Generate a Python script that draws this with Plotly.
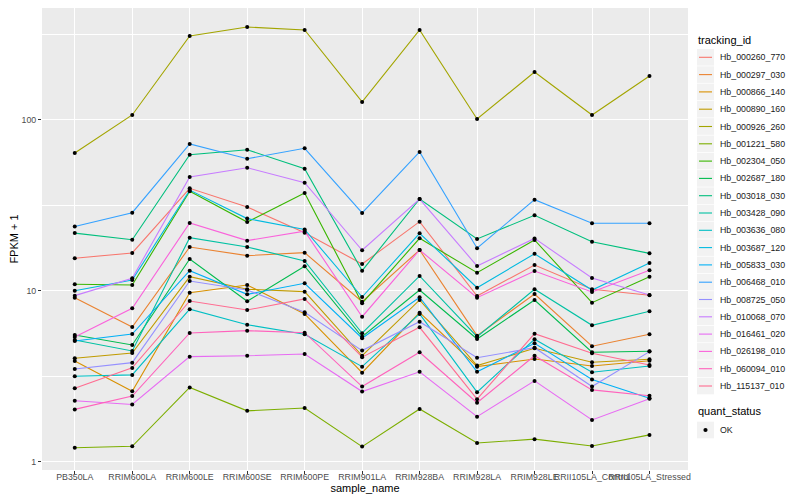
import plotly.graph_objects as go

samples = ["PB350LA", "RRIM600LA", "RRIM600LE", "RRIM600SE", "RRIM600PE", "RRIM901LA",
           "RRIM928BA", "RRIM928LA", "RRIM928LE", "RRII105LA_Control", "RRII105LA_Stressed"]

ids = ["Hb_000260_770", "Hb_000297_030", "Hb_000866_140", "Hb_000890_160", "Hb_000926_260",
       "Hb_001221_580", "Hb_002304_050", "Hb_002687_180", "Hb_003018_030", "Hb_003428_090",
       "Hb_003636_080", "Hb_003687_120", "Hb_005833_030", "Hb_006468_010", "Hb_008725_050",
       "Hb_010068_070", "Hb_016461_020", "Hb_026198_010", "Hb_060094_010", "Hb_115137_010"]

colors = ["#F8766D", "#EA8331", "#D89000", "#C09B00", "#A3A500", "#7CAE00", "#39B600", "#00BB4E",
          "#00BF7D", "#00C1A3", "#00BFC4", "#00BAE0", "#00B0F6", "#35A2FF", "#9590FF", "#C77CFF",
          "#E76BF3", "#FA62DB", "#FF62BC", "#FF6C91"]

Hb_000260_770 = [15.53, 16.69, 39.86, 30.98, 21.92, 14.38, 25.43, 9.35, 14.19, 10.23, 9.44]
Hb_000297_030 = [9.14, 6.16, 18.08, 16.09, 16.75, 8.66, 17.37, 5.48, 9.60, 4.75, 5.58]
Hb_000866_140 = [3.90, 2.59, 9.77, 10.84, 7.34, 3.33, 7.47, 3.61, 4.00, 3.64, 3.91]
Hb_000890_160 = [4.04, 4.34, 12.12, 10.23, 9.91, 4.18, 8.86, 3.66, 4.62, 3.83, 3.99]
Hb_000926_260 = [64.1, 107.0, 310.0, 350.0, 336.0, 127.5, 336.0, 101.3, 190.9, 107.0, 180.8]
Hb_001221_580 = [1.21, 1.235, 2.73, 1.99, 2.07, 1.23, 2.04, 1.29, 1.36, 1.24, 1.44]
Hb_002304_050 = [10.94, 10.84, 38.3, 25.3, 37.4, 8.48, 20.33, 12.79, 19.87, 8.54, 12.12]
Hb_002687_180 = [5.53, 4.83, 15.39, 8.71, 13.95, 5.40, 10.13, 5.24, 8.86, 4.38, 4.44]
Hb_003018_030 = [21.8, 19.95, 62.7, 67.0, 51.9, 13.14, 34.5, 20.14, 27.7, 19.4, 16.6]
Hb_003428_090 = [5.17, 4.46, 20.5, 18.08, 14.98, 5.66, 12.24, 5.40, 10.23, 6.30, 7.61]
Hb_003636_080 = [3.17, 3.23, 7.82, 6.35, 5.58, 3.61, 7.34, 2.56, 5.22, 3.35, 3.64]
Hb_003687_120 = [10.04, 11.60, 38.9, 26.5, 22.9, 9.22, 21.75, 10.45, 16.5, 10.13, 14.58]
Hb_005833_030 = [5.10, 5.60, 13.14, 9.56, 11.09, 5.29, 9.19, 3.37, 4.94, 3.04, 2.36]
Hb_006468_010 = [23.8, 28.7, 72.4, 59.4, 68.3, 28.6, 65.0, 17.8, 34.2, 24.9, 24.9]
Hb_008725_050 = [3.50, 3.81, 11.44, 10.13, 7.51, 4.48, 6.61, 4.07, 4.66, 2.76, 4.42]
Hb_010068_070 = [9.39, 11.87, 46.4, 52.6, 43.0, 17.3, 34.5, 14.0, 20.3, 11.9, 9.48]
Hb_016461_020 = [2.28, 2.17, 4.13, 4.18, 4.28, 2.58, 3.37, 1.84, 2.98, 1.76, 2.34]
Hb_026198_010 = [5.38, 7.92, 25.0, 19.7, 22.4, 7.07, 17.37, 9.14, 13.09, 9.87, 13.21]
Hb_060094_010 = [2.03, 2.43, 5.68, 5.86, 5.70, 2.76, 4.38, 2.22, 4.18, 2.64, 2.44]
Hb_115137_010 = [2.70, 3.55, 8.74, 7.74, 8.98, 4.10, 6.13, 2.33, 5.63, 4.32, 3.69]

series = [Hb_000260_770, Hb_000297_030, Hb_000866_140, Hb_000890_160, Hb_000926_260,
          Hb_001221_580, Hb_002304_050, Hb_002687_180, Hb_003018_030, Hb_003428_090,
          Hb_003636_080, Hb_003687_120, Hb_005833_030, Hb_006468_010, Hb_008725_050,
          Hb_010068_070, Hb_016461_020, Hb_026198_010, Hb_060094_010, Hb_115137_010]

quant_status = "OK"

FONT = "Liberation Sans"

# figure geometry (the page adds an 8px body margin)
OFF = 8
W, H = 792, 492
ML, MR, MT, MB = 34, 112, 0, 30
PW, PH = W - ML - MR, H - MT - MB


def px(x):  # page pixel -> paper x
    return (x - OFF - ML) / PW


def py(y):  # page pixel -> paper y
    return 1 - (y - OFF - MT) / PH


fig = go.Figure()

for name, col, vals in zip(ids, colors, series):
    fig.add_trace(go.Scatter(x=samples, y=vals, mode="lines", name=name,
                             line=dict(color=col, width=1.1), showlegend=False))

all_x, all_y = [], []
for vals in series:
    all_x += samples
    all_y += vals
fig.add_trace(go.Scatter(x=all_x, y=all_y, mode="markers", name=quant_status,
                         marker=dict(color="black", size=4, symbol="circle"),
                         showlegend=False))

# hand-drawn ggplot-style legends
shapes, annos = [], []
KEY_X0, KEY_X1, TXT_X = 697, 714, 718
annos.append(dict(text="tracking_id", x=px(KEY_X0 - 1), y=py(40), xref="paper", yref="paper",
                  xanchor="left", yanchor="middle", showarrow=False,
                  font=dict(size=11, color="black", family=FONT)))
for i, (name, col) in enumerate(zip(ids, colors)):
    yc = 57.3 + 17.3 * i
    shapes.append(dict(type="rect", xref="paper", yref="paper", x0=px(KEY_X0), x1=px(KEY_X1),
                       y0=py(yc - 8.3), y1=py(yc + 8.3), fillcolor="#F2F2F2", line=dict(width=0),
                       layer="below"))
    shapes.append(dict(type="line", xref="paper", yref="paper", x0=px(KEY_X0 + 2), x1=px(KEY_X1 - 2),
                       y0=py(yc), y1=py(yc), line=dict(color=col, width=1.1)))
    annos.append(dict(text=name, x=px(TXT_X), y=py(yc), xref="paper", yref="paper",
                      xanchor="left", yanchor="middle", showarrow=False,
                      font=dict(size=8.8, color="#1a1a1a", family=FONT)))

annos.append(dict(text="quant_status", x=px(KEY_X0 - 1), y=py(411), xref="paper", yref="paper",
                  xanchor="left", yanchor="middle", showarrow=False,
                  font=dict(size=11, color="black", family=FONT)))
yc = 430
shapes.append(dict(type="rect", xref="paper", yref="paper", x0=px(KEY_X0), x1=px(KEY_X1),
                   y0=py(yc - 8.3), y1=py(yc + 8.3), fillcolor="#F2F2F2", line=dict(width=0),
                   layer="below"))
shapes.append(dict(type="circle", xref="paper", yref="paper",
                   x0=px(705.5 - 2.1), x1=px(705.5 + 2.1), y0=py(yc - 2.1), y1=py(yc + 2.1),
                   fillcolor="black", line=dict(width=0)))
annos.append(dict(text=quant_status, x=px(TXT_X), y=py(yc), xref="paper", yref="paper",
                  xanchor="left", yanchor="middle", showarrow=False,
                  font=dict(size=8.8, color="#1a1a1a", family=FONT)))

fig.update_layout(
    width=W, height=H,
    margin=dict(l=ML, r=MR, t=MT, b=MB, autoexpand=False),
    paper_bgcolor="white", plot_bgcolor="#EBEBEB",
    font=dict(family=FONT, size=10, color="#1a1a1a"),
    showlegend=False, shapes=shapes, annotations=annos,
)

fig.update_xaxes(
    type="category", categoryorder="array", categoryarray=samples,
    range=[-0.57, len(samples) - 0.33], automargin=False,
    showgrid=True, gridcolor="white", gridwidth=1.1,
    ticks="outside", ticklen=3, tickcolor="#333333", tickwidth=1,
    tickfont=dict(size=8.8, color="#4D4D4D"), tickangle=0, ticklabelstandoff=-5,
    title=dict(text="sample_name", font=dict(size=11, color="black"), standoff=0),
    showline=False, zeroline=False,
)
fig.update_yaxes(
    type="log", range=[-0.047, 2.655], automargin=False,
    tickvals=[1, 10, 100], ticktext=["1", "10", "100"],
    showgrid=True, gridcolor="white", gridwidth=1.1,
    minor=dict(tickvals=[3.1623, 31.623, 316.23], showgrid=True, gridcolor="white",
               gridwidth=0.5, ticks=""),
    ticks="outside", ticklen=3, tickcolor="#333333", tickwidth=1,
    tickfont=dict(size=8.8, color="#4D4D4D"),
    title=dict(text="FPKM + 1", font=dict(size=11, color="black"), standoff=3),
    showline=False, zeroline=False,
)

fig.write_html("out.html")
